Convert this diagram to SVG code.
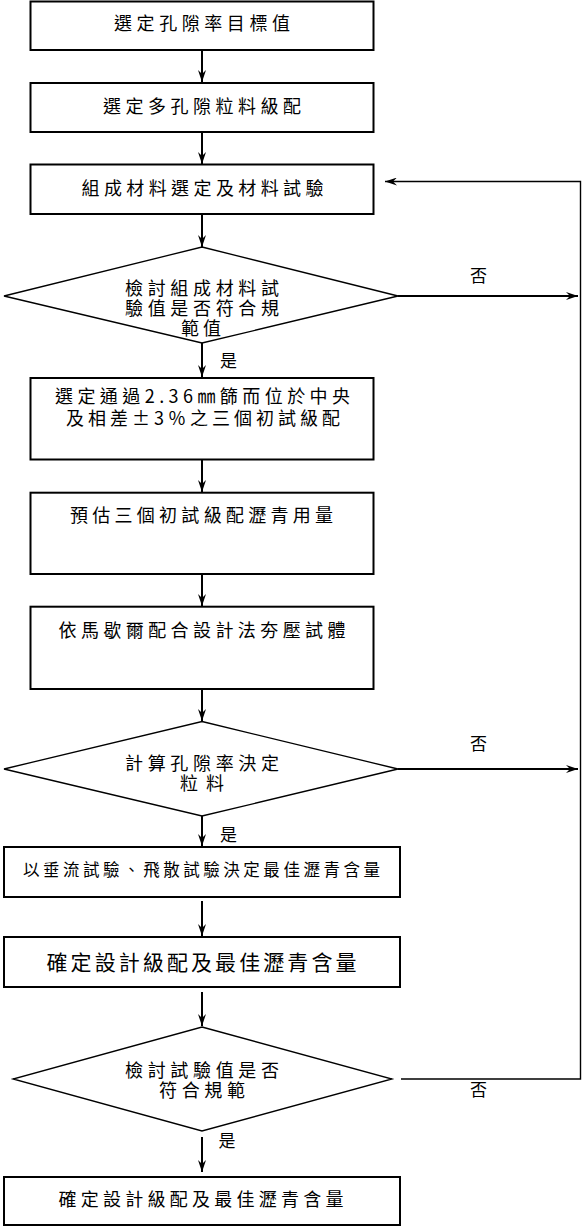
<svg xmlns="http://www.w3.org/2000/svg" width="582" height="1226" viewBox="0 0 582 1226">
<defs>
<style>
.box{fill:#fff;stroke:#000;stroke-width:2}
.dia{fill:#fff;stroke:#000;stroke-width:1.3}
.t{font-family:"Noto Sans CJK TC","Noto Sans CJK SC",sans-serif;font-size:18px;fill:#000}
.s{font-size:17px}
.c{fill:none;stroke:#000;stroke-width:2}
.c1{fill:none;stroke:#000;stroke-width:1.4}
</style>
<marker id="ah" viewBox="0 0 12 8" refX="12" refY="4" markerWidth="12" markerHeight="8" markerUnits="userSpaceOnUse" orient="auto">
<path d="M0,0 L12,4 L0,8 L4,4 Z" fill="#000"/>
</marker>
</defs>
<rect width="582" height="1226" fill="#fff"/>
<g id="connectors">
<line class="c" x1="202" y1="50" x2="202" y2="82" marker-end="url(#ah)"/>
<line class="c" x1="202" y1="132" x2="202" y2="164" marker-end="url(#ah)"/>
<line class="c" x1="202" y1="214" x2="202" y2="247" marker-end="url(#ah)"/>
<line class="c" x1="202" y1="343" x2="202" y2="377" marker-end="url(#ah)"/>
<line class="c" x1="202" y1="460" x2="202" y2="492" marker-end="url(#ah)"/>
<line class="c" x1="202" y1="575" x2="202" y2="606" marker-end="url(#ah)"/>
<line class="c" x1="202" y1="689" x2="202" y2="721" marker-end="url(#ah)"/>
<line class="c" x1="202" y1="816" x2="202" y2="846" marker-end="url(#ah)"/>
<line class="c" x1="202" y1="901" x2="202" y2="936" marker-end="url(#ah)"/>
<line class="c" x1="202" y1="992" x2="202" y2="1026" marker-end="url(#ah)"/>
<line class="c" x1="202" y1="1137" x2="202" y2="1172" marker-end="url(#ah)"/>
<line class="c" x1="398" y1="296" x2="578" y2="296" marker-end="url(#ah)"/>
<line class="c" x1="398" y1="769" x2="578" y2="769" marker-end="url(#ah)"/>
<polyline class="c1" points="401,1079 580.5,1079 580.5,181.5 385,181.5" marker-end="url(#ah)"/>
</g>
<g id="n1">
<rect class="box" x="30.5" y="1.5" width="343" height="48.5"/>
<text class="t" x="114" y="30.3" textLength="176" lengthAdjust="spacing">選定孔隙率目標值</text>
</g>
<g id="n2">
<rect class="box" x="30.5" y="83" width="343" height="49"/>
<text class="t" x="103" y="113.3" textLength="198" lengthAdjust="spacing">選定多孔隙粒料級配</text>
</g>
<g id="n3">
<rect class="box" x="30.5" y="164.5" width="343" height="49.5"/>
<text class="t" x="81.5" y="195.3" textLength="242" lengthAdjust="spacing">組成材料選定及材料試驗</text>
</g>
<g id="d1">
<polygon class="dia" points="202,247 398,296 202,343 4,296"/>
<text class="t" x="125" y="295.3" textLength="154" lengthAdjust="spacing">檢討組成材料試</text>
<text class="t" x="125" y="314.8" textLength="154" lengthAdjust="spacing">驗值是否符合規</text>
<text class="t" x="181" y="334.8" textLength="40" lengthAdjust="spacing">範值</text>
<text class="t s" x="478.5" y="281.5" text-anchor="middle">否</text>
<text class="t s" x="228.5" y="366.5" text-anchor="middle">是</text>
</g>
<g id="n4">
<rect class="box" x="30.5" y="378" width="343" height="81.5"/>
<text class="t" x="55" y="403.3" textLength="295" lengthAdjust="spacing">選定通過2.36㎜篩而位於中央</text>
<text class="t" x="66" y="425.3" textLength="274" lengthAdjust="spacing">及相差±3％之三個初試級配</text>
</g>
<g id="n5">
<rect class="box" x="30.5" y="492.7" width="343" height="81.3"/>
<text class="t" x="70" y="521.8" textLength="263" lengthAdjust="spacing">預估三個初試級配瀝青用量</text>
</g>
<g id="n6">
<rect class="box" x="30.5" y="606.7" width="343" height="82.3"/>
<text class="t" x="58.5" y="636.8" textLength="287" lengthAdjust="spacing">依馬歇爾配合設計法夯壓試體</text>
</g>
<g id="d2">
<polygon class="dia" points="202,721.5 398,769 202,816 4,769"/>
<text class="t" x="125" y="770.3" textLength="154" lengthAdjust="spacing">計算孔隙率決定</text>
<text class="t" x="180" y="790.3" textLength="44" lengthAdjust="spacing">粒料</text>
<text class="t s" x="478.5" y="750" text-anchor="middle">否</text>
<text class="t s" x="228.5" y="840.5" text-anchor="middle">是</text>
</g>
<g id="n7">
<rect class="box" x="4" y="847" width="396" height="50"/>
<text class="t" style="font-size:16.5px" x="23" y="875.8" textLength="357" lengthAdjust="spacing">以垂流試驗、飛散試驗決定最佳瀝青含量</text>
</g>
<g id="n8">
<rect class="box" x="4" y="937" width="396" height="50"/>
<text class="t" style="font-size:21px" x="46.5" y="969.5" textLength="310" lengthAdjust="spacing">確定設計級配及最佳瀝青含量</text>
</g>
<g id="d3">
<polygon class="dia" points="202,1027 392,1079 202,1131 13,1079"/>
<text class="t" x="125" y="1076.8" textLength="154" lengthAdjust="spacing">檢討試驗值是否</text>
<text class="t" x="159" y="1096.8" textLength="86" lengthAdjust="spacing">符合規範</text>
<text class="t s" x="478.5" y="1096" text-anchor="middle">否</text>
<text class="t s" x="227" y="1146.5" text-anchor="middle">是</text>
</g>
<g id="n9">
<rect class="box" x="4" y="1177" width="396" height="48"/>
<text class="t" x="58.5" y="1206.3" textLength="285" lengthAdjust="spacing">確定設計級配及最佳瀝青含量</text>
</g>
</svg>
